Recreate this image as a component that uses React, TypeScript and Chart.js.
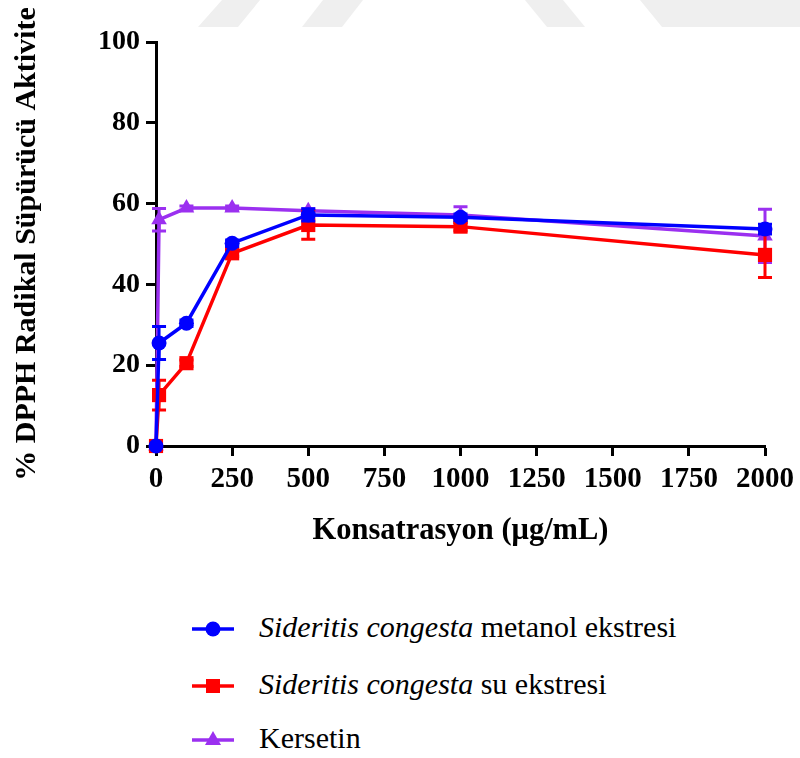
import React, { useEffect, useRef } from "react";
import { Chart, registerables } from "chart.js";

Chart.register(...registerables);

const concentrations = [0, 10, 100, 250, 500, 1000, 2000];
const metanolValues = [0, 25.5, 30.4, 50.2, 57.2, 56.6, 53.7];
const metanolSD = [0, 4.1, 0.8, 0.8, 1.5, 0.8, 1.2];
const suValues = [0, 12.6, 20.5, 47.7, 54.7, 54.3, 47.3];
const suSD = [0, 3.7, 0.8, 0.8, 3.5, 1.0, 5.6];
const kersetinValues = [0, 56, 58.9, 58.9, 58.2, 57.2, 52];
const kersetinSD = [0, 2.8, 0.5, 0.5, 0.5, 2.0, 6.6];
const xTicks = [0, 250, 500, 750, 1000, 1250, 1500, 1750, 2000];
const yTicks = [0, 20, 40, 60, 80, 100];

const BLUE = "#0000FF";
const RED = "#FF0000";
const PURPLE = "#9B30F0";
const SERIF = "'Liberation Serif', 'Times New Roman', serif";

const errorBarPlugin = {
  id: "errorBars",
  beforeDatasetDraw(chart: any, args: any) {
    const ds = chart.data.datasets[args.index];
    const errs: number[] | undefined = ds.errors;
    if (!errs) return;
    const meta = chart.getDatasetMeta(args.index);
    const yScale = chart.scales.y;
    const ctx = chart.ctx;
    ctx.save();
    ctx.strokeStyle = ds.borderColor;
    ctx.lineWidth = 3;
    meta.data.forEach((pt: any, i: number) => {
      const e = errs[i];
      if (!e) return;
      const v = ds.data[i].y;
      const yTop = yScale.getPixelForValue(v + e);
      const yBot = yScale.getPixelForValue(v - e);
      const x = pt.x;
      const cap = 7;
      ctx.beginPath();
      ctx.moveTo(x, yTop);
      ctx.lineTo(x, yBot);
      ctx.moveTo(x - cap, yTop);
      ctx.lineTo(x + cap, yTop);
      ctx.moveTo(x - cap, yBot);
      ctx.lineTo(x + cap, yBot);
      ctx.stroke();
    });
    ctx.restore();
  },
};

function toPoints(vals: number[]) {
  return vals.map((v, i) => ({ x: concentrations[i], y: v }));
}

function LegendRow({ top, color, marker, children }: any) {
  let shape: any = null;
  if (marker === "circle") shape = <circle cx={21} cy={12} r={7.5} fill={color} />;
  if (marker === "rect") shape = <rect x={14} y={5} width={14} height={14} fill={color} />;
  if (marker === "triangle") shape = <polygon points="21,3 29,17 13,17" fill={color} />;
  return (
    <div style={{ position: "absolute", left: 0, top: top - 12, height: 24, width: 800 }}>
      <svg width={44} height={24} style={{ position: "absolute", left: 192, top: 0 }}>
        <line x1={0} y1={12} x2={42} y2={12} stroke={color} strokeWidth={3.5} />
        {shape}
      </svg>
      <div
        style={{
          position: "absolute",
          left: 259,
          top: -7,
          fontFamily: SERIF,
          fontSize: 30,
          lineHeight: "34px",
          whiteSpace: "nowrap",
          color: "#000",
        }}
      >
        {children}
      </div>
    </div>
  );
}

export default function App() {
  const canvasRef = useRef<HTMLCanvasElement | null>(null);

  useEffect(() => {
    if (!canvasRef.current) return;
    const common = {
      pointBorderWidth: 0,
      borderWidth: 3.5,
      tension: 0,
      clip: false,
    };
    const chart = new Chart(canvasRef.current, {
      type: "line",
      data: {
        datasets: [
          {
            label: "Sideritis congesta metanol ekstresi",
            data: toPoints(metanolValues),
            errors: metanolSD,
            borderColor: BLUE,
            backgroundColor: BLUE,
            pointBackgroundColor: BLUE,
            pointBorderColor: BLUE,
            pointStyle: "circle",
            pointRadius: 7.5,
            ...common,
          } as any,
          {
            label: "Sideritis congesta su ekstresi",
            data: toPoints(suValues),
            errors: suSD,
            borderColor: RED,
            backgroundColor: RED,
            pointBackgroundColor: RED,
            pointBorderColor: RED,
            pointStyle: "rect",
            pointRadius: 10,
            ...common,
          } as any,
          {
            label: "Kersetin",
            data: toPoints(kersetinValues),
            errors: kersetinSD,
            borderColor: PURPLE,
            backgroundColor: PURPLE,
            pointBackgroundColor: PURPLE,
            pointBorderColor: PURPLE,
            pointStyle: "triangle",
            pointRadius: 9,
            ...common,
          } as any,
        ],
      },
      options: {
        animation: false,
        responsive: false,
        maintainAspectRatio: false,
        layout: { padding: { left: 0, top: 42, right: 34, bottom: 0 } },
        plugins: {
          legend: { display: false },
          tooltip: { enabled: false },
        },
        scales: {
          x: {
            type: "linear",
            min: 0,
            max: 2000,
            afterBuildTicks: (scale: any) => {
              scale.ticks = xTicks.map((v) => ({ value: v }));
            },
            afterFit: (scale: any) => {
              scale.height = 114;
            },
            ticks: {
              color: "#000",
              font: { family: SERIF, size: 29, weight: "bold" },
              padding: 6,
              maxRotation: 0,
              autoSkip: false,
              callback: (v: any) => String(v),
            },
            grid: {
              drawOnChartArea: false,
              drawTicks: true,
              tickLength: 10,
              tickWidth: 3,
              tickColor: "#000",
            },
            border: { display: true, color: "#000", width: 3 },
            title: {
              display: true,
              text: "Konsatrasyon (μg/mL)",
              color: "#000",
              font: { family: SERIF, size: 30.5, weight: "bold" },
              padding: { top: 0, bottom: 11 },
            },
          },
          y: {
            type: "linear",
            min: 0,
            max: 100,
            afterBuildTicks: (scale: any) => {
              scale.ticks = yTicks.map((v) => ({ value: v }));
            },
            afterFit: (scale: any) => {
              scale.width = 156;
            },
            ticks: {
              color: "#000",
              font: { family: SERIF, size: 28, weight: "bold" },
              padding: 6,
              callback: (v: any) => String(v),
            },
            grid: {
              drawOnChartArea: false,
              drawTicks: true,
              tickLength: 10,
              tickWidth: 3,
              tickColor: "#000",
            },
            border: { display: true, color: "#000", width: 3 },
            title: {
              display: true,
              text: "% DPPH Radikal Süpürücü Aktivite",
              color: "#000",
              font: { family: SERIF, size: 30, weight: "bold" },
              padding: { top: 9, bottom: 0 },
            },
          },
        },
      } as any,
      plugins: [errorBarPlugin],
    });
    return () => chart.destroy();
  }, []);

  return (
    <div style={{ position: "absolute", left: 0, top: 0, width: 800, height: 758, background: "#fff", overflow: "hidden" }}>
      <svg width={800} height={40} style={{ position: "absolute", left: 0, top: 0 }}>
        <polygon points="198,27 238,27 260,0 222,0" fill="#efefef" />
        <polygon points="302,27 342,27 363,0 323,0" fill="#efefef" />
        <polygon points="547,27 585,27 563,0 525,0" fill="#efefef" />
        <polygon points="662,27 800,27 800,0 640,0" fill="#efefef" />
      </svg>
      <canvas ref={canvasRef} width={800} height={560} style={{ position: "absolute", left: 0, top: 0, width: 800, height: 560 }} />
      <LegendRow top={629} color={BLUE} marker="circle">
        <i>Sideritis congesta</i> metanol ekstresi
      </LegendRow>
      <LegendRow top={686} color={RED} marker="rect">
        <i>Sideritis congesta</i> su ekstresi
      </LegendRow>
      <LegendRow top={740} color={PURPLE} marker="triangle">
        Kersetin
      </LegendRow>
    </div>
  );
}
